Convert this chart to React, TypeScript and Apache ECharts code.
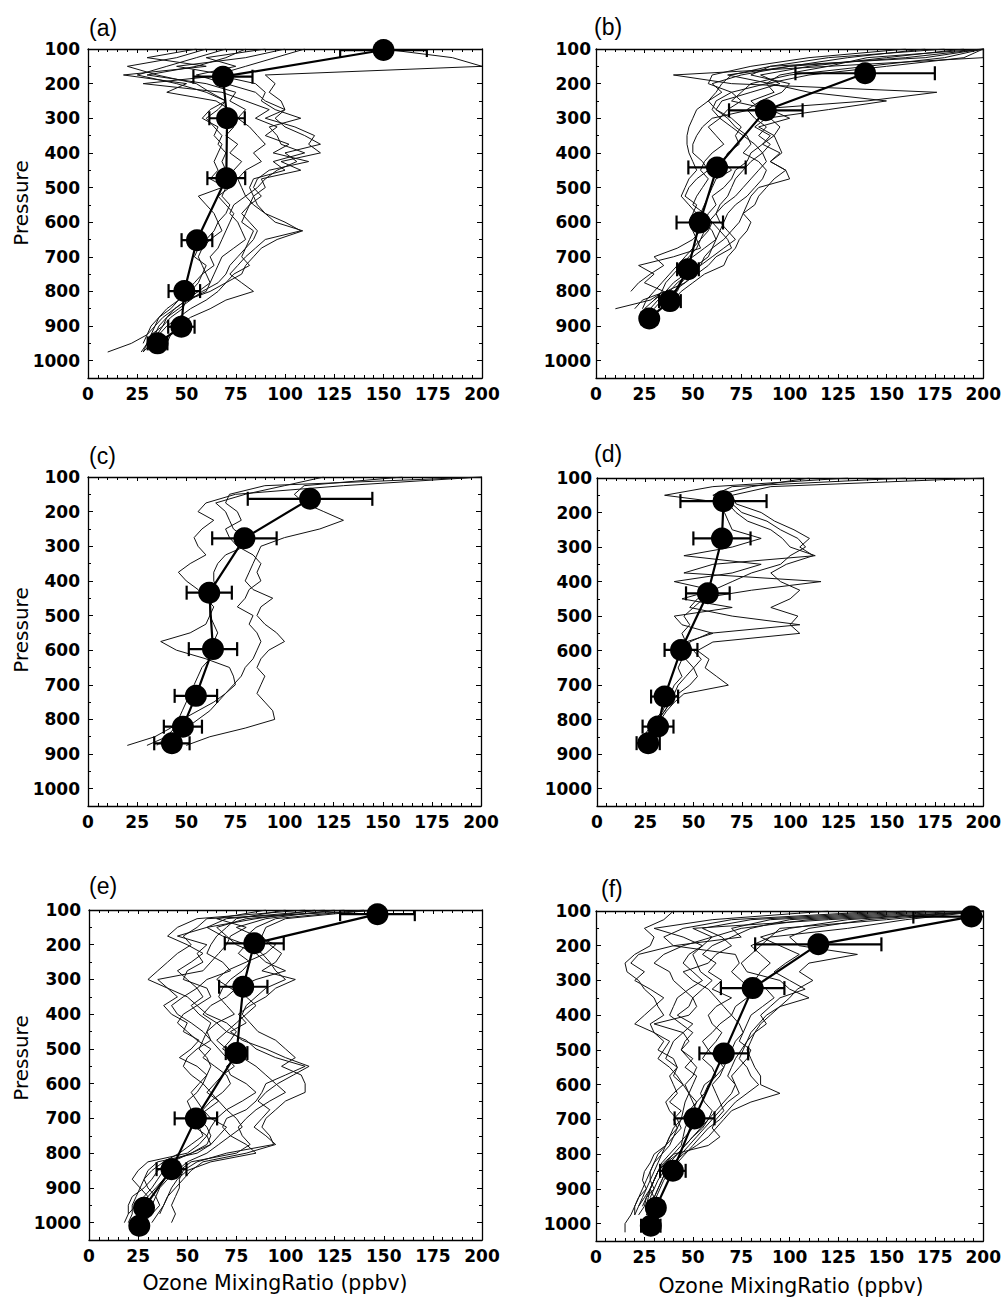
import React, { useEffect, useRef } from "react";
import * as echarts from "echarts";

// Pressure levels (hPa) used for the thin sounding profiles
const LEVELS = [100,125,150,175,200,225,250,275,300,325,350,375,400,425,450,475,500,525,550,575,600,625,650,675,700,725,750,775,800,825,850,875,900,925,950,975,1000,1025];

// Individual ozone profiles (ppbv), one value per pressure level from 100 hPa down
const profilesA = [
  [60,45,20,35,55,62,70,66,60,64,68,66,70,68,70,72,68,56,60,64,66,68,62,58,56,58,60,62,60,50,44,38,34,30,22,10],
  [80,70,55,30,60,75,72,80,76,82,86,90,84,88,80,76,78,80,74,72,76,78,80,74,68,66,64,62,56,50,48,42,38,32,30,28],
  [110,95,80,65,85,90,88,95,108,92,96,98,110,94,100,84,82,84,82,80,78,84,82,80,78,82,74,70,66,60,52,46,40,36,34],
  [150,185,200,90,95,92,98,100,90,105,115,112,118,98,108,88,90,84,86,90,95,109,96,88,84,80,78,70,62,50,44,40,38,35,32,28],
  [70,55,40,25,45,60,70,62,58,66,64,68,66,64,66,62,70,68,72,70,66,64,60,56,54,60,58,56,52,46,40,36,34,32,30,27],
  [90,60,75,55,70,85,90,100,95,100,110,118,100,106,96,90,86,80,84,90,100,108,90,85,80,76,72,78,84,70,62,52,46,42,40],
  [55,30,60,18,50,40,65,72,68,74,70,76,72,78,74,70,72,66,70,74,72,70,68,66,62,64,58,54,50,46,42,36,32,30,28],
  [100,80,45,70,28,68,80,92,85,96,90,102,94,112,92,86,84,88,82,78,82,86,84,80,76,72,70,66,58,52,46,40,36,34,33],
];
const profilesB = [
  [200,200,120,40,70,176,140,80,60,55,52,50,50,55,58,52,48,46,52,50,48,50,52,54,40,22,30,25,35,28,10],
  [200,160,100,68,90,110,150,120,88,82,90,86,80,78,72,70,66,60,62,58,56,60,62,56,50,44,46,40,36,30,25],
  [200,180,140,100,80,75,70,90,100,84,92,86,95,90,98,100,84,80,78,76,74,70,66,60,58,52,48,44,42,36],
  [190,150,110,85,95,80,65,62,70,75,72,74,68,66,70,62,60,58,56,54,60,64,62,60,56,54,50,46,40,32,28],
  [200,140,120,95,88,92,80,85,90,95,92,94,96,90,98,92,88,84,82,76,80,78,74,72,68,66,56,50,44,40],
  [170,130,100,75,60,65,58,62,68,72,78,80,76,84,88,86,82,78,72,68,66,64,68,70,62,58,52,46,36,24,20],
  [180,120,90,70,65,62,58,52,50,48,47,47,48,50,52,48,46,44,48,52,56,54,50,42,30,35,28,22,18],
  [200,190,150,110,88,70,62,60,64,70,76,82,86,88,84,80,76,72,66,62,58,56,54,52,48,44,40,36,34,30],
  [200,170,90,80,100,96,85,78,82,88,84,90,86,80,76,72,70,68,64,62,64,68,72,66,60,54,48,42,38,34,30],
  [160,110,80,60,58,70,75,68,64,58,62,66,60,56,54,58,55,52,50,56,60,58,54,50,46,42,38,34,30,26,24],
];
const profilesC = [
  [200,130,75,60,56,64,58,54,56,60,52,46,50,56,60,64,62,60,52,37,45,60,72,74,75,70,64,56,48,42,34,20],
  [160,110,105,110,120,130,118,100,88,86,84,82,80,84,94,88,86,90,96,100,92,88,86,90,88,86,90,94,95,80,62,50],
  [200,90,72,70,76,78,70,72,76,84,88,86,88,82,80,76,84,82,86,88,86,84,80,78,74,70,66,62,56,50,40,30],
  [120,100,80,65,70,72,74,80,80,70,66,64,64,66,64,62,62,64,66,64,64,62,58,56,54,52,50,48,46,44,40,35],
];
const profilesD = [
  [130,60,35,70,75,88,95,104,108,100,95,80,70,60,55,50,45,48,44,46,50,54,50,46,42,40,38,35,32,28,26,24],
  [200,90,70,72,85,92,102,110,105,112,98,90,95,105,100,90,104,100,105,60,52,58,56,62,68,45,40,36,33,30,28],
  [160,70,60,68,72,78,90,96,100,113,60,45,116,80,52,48,70,105,58,48,48,46,50,52,48,42,38,35,31,28,25],
  [110,80,62,64,66,68,70,85,70,45,85,70,40,60,44,70,40,44,60,46,44,44,42,44,40,38,36,34,30,27,24],
];
const profilesE = [
  [150,60,55,48,52,45,40,35,30,40,45,38,42,50,48,56,52,46,55,60,58,55,50,52,56,60,62,60,52,40,35,32,28,22,20,20,18],
  [130,80,65,70,75,85,90,100,85,75,70,62,58,65,70,80,85,95,110,100,90,88,85,80,70,68,72,80,85,62,50,45,42,40,38,35,32],
  [120,70,60,45,60,55,58,50,48,60,62,55,60,70,75,72,68,75,70,72,80,85,78,70,65,62,60,56,50,30,25,22,26,30,24,20],
  [140,95,85,80,82,88,92,95,100,90,85,80,78,82,86,95,100,105,98,108,110,110,100,95,90,88,92,94,70,55,48,46,46,44,42,44,42],
  [100,75,70,65,62,60,68,72,60,55,58,52,56,62,60,58,56,60,62,60,56,52,55,58,62,70,66,62,55,35,30,28,30,34,36,32,28],
  [115,85,60,68,80,76,82,78,72,68,66,70,74,65,60,62,66,70,74,68,64,60,66,70,75,78,72,66,60,50,45,38,34,30,28,26,25],
  [90,65,80,72,70,66,62,58,35,40,50,55,48,45,50,55,62,58,64,70,72,68,62,58,56,54,60,62,52,42,38,35,32,28,30,28],
  [145,100,90,88,92,98,95,88,105,95,90,82,76,80,72,78,90,100,112,104,96,90,86,92,88,84,90,95,80,58,52,48,44,40,38,36],
  [110,55,45,40,50,58,52,45,50,55,48,42,45,52,58,62,55,50,48,52,58,62,66,60,54,56,58,52,46,38,32,28,26,24,22,22,20],
  [125,90,75,85,95,90,80,70,65,72,80,85,80,75,70,65,70,78,85,90,95,100,92,85,80,76,78,82,75,52,46,40,36,34,32,30],
];
const profilesF = [
  [40,35,25,30,28,20,15,16,22,25,30,32,35,28,30,35,32,40,42,38,40,42,38,44,40,42,38,36,30,28,25,24,26,22,20,18,15,15],
  [200,120,50,60,45,35,30,38,40,45,50,48,42,50,45,48,44,50,46,52,50,48,46,45,44,42,40,38,34,30,28,28,30,26,25,22],
  [180,100,80,70,60,55,62,58,65,60,70,62,58,60,65,62,58,55,60,62,58,56,52,50,48,46,45,44,40,36,32,30,28,30,28,26],
  [200,150,95,90,85,80,75,78,95,100,110,95,88,84,80,78,75,72,70,68,72,70,66,62,58,55,50,46,42,38,35,32,30,28,30,28],
  [200,140,110,100,105,135,110,105,112,104,100,95,90,85,82,80,78,80,82,85,85,95,80,70,66,62,58,52,45,40,36,34,32,30,28],
  [170,90,70,75,40,72,74,70,75,80,78,72,70,74,76,72,70,68,66,64,60,62,64,66,62,60,64,58,40,35,32,30,28,27,26],
  [120,60,30,45,55,50,52,54,60,55,50,52,48,30,45,40,38,36,42,40,45,48,50,52,54,50,46,42,38,34,32,30,28,25,22],
  [200,160,130,90,80,85,90,85,82,88,92,86,80,78,76,74,80,78,74,70,72,74,68,64,60,56,52,48,44,40,36,34,32,30],
  [150,70,45,35,40,22,18,25,20,28,35,30,25,20,30,38,35,32,38,42,45,40,36,38,42,44,40,36,32,30,28,26,24,22,20,20],
  [200,130,100,85,95,105,98,92,100,108,95,90,85,88,82,78,76,74,78,80,84,78,72,68,64,58,54,50,46,42,38,35,33,31,30],
  [160,80,55,65,70,62,58,45,50,58,62,66,70,64,60,55,58,62,66,62,56,54,56,60,58,54,50,46,42,36,32,30,28,26,24],
  [190,110,75,60,55,48,45,50,55,48,42,40,38,44,50,46,44,48,52,50,46,48,52,48,44,40,38,36,34,32,30,28,26,24,22,20],
];

// Mean profiles (ppbv), their pressures (hPa) and error half-widths (ppbv)
const meanXA = [150, 68.5, 70.6, 70.2, 55.3, 48.9, 47.4, 35.3];
const meanPA = [103, 180, 300, 473, 652, 799, 902, 950];
const errA = [22, 15, 9, 9.6, 7.8, 8, 6.7, 5];

const meanXB = [139, 87.7, 62.5, 53.6, 47.5, 38.2, 27.5];
const meanPB = [170, 277, 442, 601, 736, 828, 878];
const errB = [36, 19, 14.8, 12, 5.6, 5.6, 4];

const meanXC = [113, 79.6, 61.7, 63.6, 54.9, 48.3, 42.7];
const meanPC = [163, 277, 434, 597, 732, 821, 869];
const errC = [31.7, 16.4, 11.5, 12.3, 10.8, 9.7, 9];

const meanXD = [65.5, 64.7, 57.4, 43.5, 35, 31.6, 26.5];
const meanPD = [167, 275, 434, 598, 733, 820, 868];
const errD = [22.3, 14.8, 11.3, 8.5, 7, 8, 6];

const meanXE = [146.8, 84.1, 78.5, 75.1, 54.4, 42, 28, 25.6];
const meanPE = [112, 196, 321, 512, 700, 846, 957, 1009];
const errE = [19, 15, 12.3, 5.5, 10.8, 7.6, 3, 3];

const meanXF = [193.9, 114.8, 80.9, 66, 50.9, 39.7, 30.9, 28.3];
const meanPF = [116, 196, 322, 510, 697, 848, 954, 1006];
const errF = [30, 32.6, 16.4, 12.6, 10.3, 6.6, 4, 5];

const X_TICKS = [0, 25, 50, 75, 100, 125, 150, 175, 200];
const P_TICKS = [100, 200, 300, 400, 500, 600, 700, 800, 900, 1000];

const PANEL_LABELS = ["(a)", "(b)", "(c)", "(d)", "(e)", "(f)"];
const Y_TITLE = "Pressure";
const X_TITLE = "Ozone MixingRatio (ppbv)";

const FONT = "DejaVu Sans, Liberation Sans, Arial, sans-serif";
const TITLE_FONT = "Liberation Sans, Arial, sans-serif";

const panels = [
  { label: PANEL_LABELS[0], profiles: profilesA, mx: meanXA, mp: meanPA, err: errA, box: [88, 49, 394, 329], lx: 89, ly: 29, yMargin: 8 },
  { label: PANEL_LABELS[1], profiles: profilesB, mx: meanXB, mp: meanPB, err: errB, box: [596, 49, 394, 329], lx: 594, ly: 28, yMargin: 5 },
  { label: PANEL_LABELS[2], profiles: profilesC, mx: meanXC, mp: meanPC, err: errC, box: [88, 477, 393, 329], lx: 89, ly: 457, yMargin: 8 },
  { label: PANEL_LABELS[3], profiles: profilesD, mx: meanXD, mp: meanPD, err: errD, box: [597, 478, 393, 328], lx: 594, ly: 455, yMargin: 5 },
  { label: PANEL_LABELS[4], profiles: profilesE, mx: meanXE, mp: meanPE, err: errE, box: [89, 910, 393, 330], lx: 89, ly: 887, yMargin: 8 },
  { label: PANEL_LABELS[5], profiles: profilesF, mx: meanXF, mp: meanPF, err: errF, box: [596, 911, 393, 330], lx: 601, ly: 890, yMargin: 5 },
];

const yTitles = [
  { x: 21, y: 203 },
  { x: 21, y: 630 },
  { x: 21, y: 1058 },
];
const xTitles = [
  { x: 275, y: 1283 },
  { x: 791, y: 1286 },
];

function buildOption() {
  const axisLine = { show: true, onZero: false, lineStyle: { color: "#000", width: 1.3 } };
  const grid: any[] = [];
  const xAxis: any[] = [];
  const yAxis: any[] = [];
  const series: any[] = [];
  const graphic: any[] = [];

  panels.forEach((p, i) => {
    grid.push({ left: p.box[0], top: p.box[1], width: p.box[2], height: p.box[3], containLabel: false });
    const xBase = {
      gridIndex: i, type: "value", min: X_TICKS[0], max: X_TICKS[X_TICKS.length - 1], interval: 25,
      axisLine, splitLine: { show: false },
      axisTick: { show: true, inside: true, length: 4, lineStyle: { color: "#000", width: 1 } },
      minorTick: { show: true, splitNumber: 5, length: 3, lineStyle: { color: "#000", width: 1 } },
    };
    xAxis.push({
      ...xBase, position: "bottom",
      axisLabel: { show: true, color: "#000", fontFamily: FONT, fontWeight: "bold", fontSize: 17, margin: 7 },
    });
    xAxis.push({ ...xBase, position: "top", axisLabel: { show: false } });
    const yBase = {
      gridIndex: i, type: "value", min: P_TICKS[0], max: 1050, interval: 100, inverse: true,
      axisLine, splitLine: { show: false },
      axisTick: { show: true, inside: true, length: 5, lineStyle: { color: "#000", width: 1 } },
      minorTick: { show: true, splitNumber: 2, length: 3, lineStyle: { color: "#000", width: 1 } },
    };
    yAxis.push({
      ...yBase, position: "left",
      axisLabel: {
        show: true, color: "#000", fontFamily: FONT, fontWeight: "bold", fontSize: 17, margin: p.yMargin,
        formatter: (v: number) => (P_TICKS.indexOf(v) >= 0 ? String(v) : ""),
      },
    });
    yAxis.push({ ...yBase, position: "right", axisLabel: { show: false } });

    const xi = 2 * i;
    const yi = 2 * i;
    p.profiles.forEach((prof) => {
      series.push({
        type: "line", xAxisIndex: xi, yAxisIndex: yi, showSymbol: false, symbol: "none",
        data: prof.map((x, k) => [x, LEVELS[k]]),
        lineStyle: { color: "#111", width: 1 }, z: 2, silent: true,
      });
    });
    series.push({
      type: "custom", xAxisIndex: xi, yAxisIndex: yi, clip: true, z: 3,
      data: p.mx.map((x, k) => [x - p.err[k], x + p.err[k], p.mp[k]]),
      encode: { x: [0, 1], y: 2 },
      renderItem: (params: any, api: any) => {
        const lo = api.coord([api.value(0), api.value(2)]);
        const hi = api.coord([api.value(1), api.value(2)]);
        const h = 7;
        const st = { stroke: "#000", lineWidth: 2.2 };
        return {
          type: "group",
          children: [
            { type: "line", shape: { x1: lo[0], y1: lo[1], x2: hi[0], y2: hi[1] }, style: st },
            { type: "line", shape: { x1: lo[0], y1: lo[1] - h, x2: lo[0], y2: lo[1] + h }, style: st },
            { type: "line", shape: { x1: hi[0], y1: hi[1] - h, x2: hi[0], y2: hi[1] + h }, style: st },
          ],
        };
      },
    });
    series.push({
      type: "line", xAxisIndex: xi, yAxisIndex: yi, symbol: "circle", symbolSize: 22, showSymbol: true,
      data: p.mx.map((x, k) => [x, p.mp[k]]),
      lineStyle: { color: "#000", width: 2.2 }, itemStyle: { color: "#000" }, z: 4, clip: false,
    });

    graphic.push({
      type: "text", left: p.lx, top: p.ly - 13,
      style: { text: p.label, fill: "#000", font: `23px ${TITLE_FONT}` },
    });
  });

  yTitles.forEach((t) => {
    graphic.push({
      type: "text", x: t.x, y: t.y, rotation: Math.PI / 2,
      style: { text: Y_TITLE, fill: "#000", font: `20px ${FONT}`, align: "center", verticalAlign: "middle", textAlign: "center", textVerticalAlign: "middle" },
    });
  });
  xTitles.forEach((t) => {
    graphic.push({
      type: "text", x: t.x, y: t.y,
      style: { text: X_TITLE, fill: "#000", font: `20.5px ${FONT}`, align: "center", verticalAlign: "middle", textAlign: "center", textVerticalAlign: "middle" },
    });
  });

  return {
    animation: false,
    backgroundColor: "#fff",
    grid, xAxis, yAxis, series, graphic,
  };
}

export default function App() {
  const ref = useRef<HTMLDivElement>(null);
  useEffect(() => {
    document.body.style.margin = "0";
    if (!ref.current) return;
    const chart = echarts.init(ref.current, undefined, { renderer: "svg" });
    chart.setOption(buildOption() as any);
    return () => chart.dispose();
  }, []);
  return <div ref={ref} style={{ position: "absolute", left: 0, top: 0, width: 1004, height: 1302, background: "#fff" }} />;
}
